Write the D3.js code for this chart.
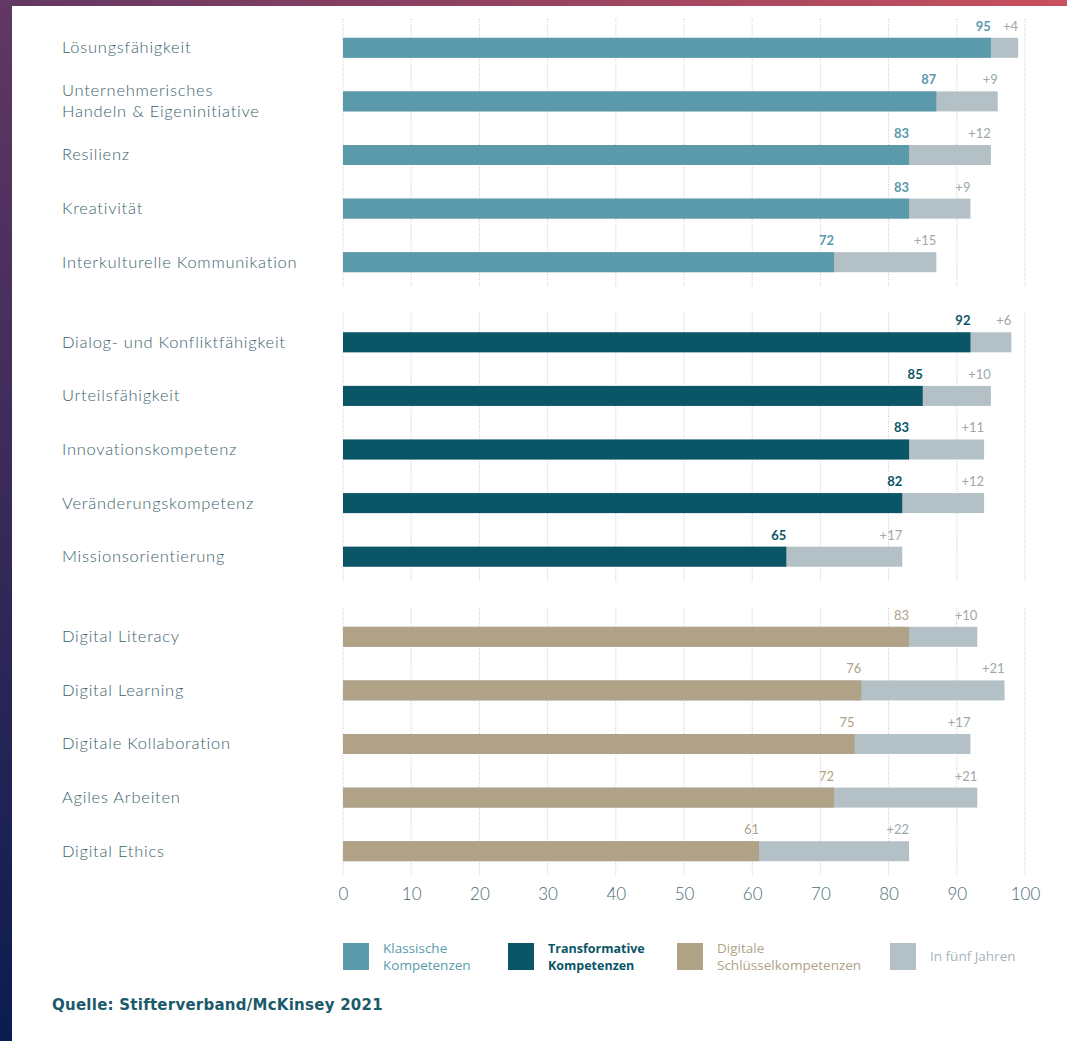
<!DOCTYPE html>
<html>
<head>
<meta charset="utf-8">
<script src="https://d3js.org/d3.v7.min.js"></script>
<style>
  body { margin: 0; background: #fff; }
  svg { display: block; }
</style>
</head>
<body>
<div id="chart"></div>
<script>
// data
const groups = ["Klassische", "Transformative", "Digitale"]
const labels = [
  ["Lösungsfähigkeit", "Unternehmerisches\nHandeln & Eigeninitiative", "Resilienz", "Kreativität", "Interkulturelle Kommunikation"],
  ["Dialog- und Konfliktfähigkeit", "Urteilsfähigkeit", "Innovationskompetenz", "Veränderungskompetenz", "Missionsorientierung"],
  ["Digital Literacy", "Digital Learning", "Digitale Kollaboration", "Agiles Arbeiten", "Digital Ethics"]
]
const today = [
  [95, 87, 83, 83, 72],
  [92, 85, 83, 82, 65],
  [83, 76, 75, 72, 61]
]
const plus = [
  [4, 9, 12, 9, 15],
  [6, 10, 11, 12, 17],
  [10, 21, 17, 21, 22]
]
const ticks = [0, 10, 20, 30, 40, 50, 60, 70, 80, 90, 100]
const legendLabels = [
  ["Klassische", "Kompetenzen"],
  ["Transformative", "Kompetenzen"],
  ["Digitale", "Schlüsselkompetenzen"],
  ["In fünf Jahren"]
]
const source = "Quelle: Stifterverband/McKinsey 2021"

const width = 1067
const height = 1041
const colors = ["#5b9aab", "#0a5566", "#b0a287"]
const futureColor = "#b3c0c6"
const labelColor = "#3c636c"

const svg = d3.select("#chart").append("svg")
  .attr("width", width).attr("height", height)

// frame gradients
const defs = svg.append("defs")
const gl = defs.append("linearGradient").attr("id", "gl").attr("x1", 0).attr("y1", 0).attr("x2", 0).attr("y2", 1)
gl.append("stop").attr("offset", "0%").attr("stop-color", "#623763")
gl.append("stop").attr("offset", "100%").attr("stop-color", "#0b1c50")
const gt = defs.append("linearGradient").attr("id", "gt").attr("x1", 0).attr("y1", 0).attr("x2", 1).attr("y2", 0)
gt.append("stop").attr("offset", "0%").attr("stop-color", "#623763")
gt.append("stop").attr("offset", "100%").attr("stop-color", "#c9505e")
svg.append("rect").attr("x", 0).attr("y", 0).attr("width", width).attr("height", 6).attr("fill", "url(#gt)")
svg.append("rect").attr("x", 0).attr("y", 0).attr("width", 12).attr("height", height).attr("fill", "url(#gl)")

const x = d3.scaleLinear().domain([0, 100]).range([343, 1025])
const yGroup = d3.scaleBand().domain(d3.range(groups.length)).range([19, 876]).paddingInner(0.09)
const yRow = d3.scaleBand().domain(d3.range(5)).range([2, yGroup.bandwidth() + 2])
const barH = 20

groups.forEach((g, gi) => {
  const top = yGroup(gi)
  const grp = svg.append("g").attr("transform", "translate(0," + top + ")")

  // dotted gridlines
  grp.selectAll("line.grid")
    .data(ticks)
    .enter().append("line")
    .attr("x1", d => x(d)).attr("x2", d => x(d))
    .attr("y1", 0).attr("y2", yGroup.bandwidth())
    .attr("stroke", "#c8c8c8")
    .attr("stroke-width", 1)
    .attr("stroke-dasharray", "1,1.5")

  const rows = labels[gi].map((l, i) => ({ label: l, v: today[gi][i], p: plus[gi][i], i: i }))
  const cy = d => yRow(d.i) + yRow.bandwidth() / 2

  grp.selectAll("rect.future").data(rows).enter().append("rect")
    .attr("x", x(0)).attr("y", d => cy(d) - barH / 2)
    .attr("width", d => x(d.v + d.p) - x(0)).attr("height", barH)
    .attr("fill", futureColor)

  grp.selectAll("rect.today").data(rows).enter().append("rect")
    .attr("x", x(0)).attr("y", d => cy(d) - barH / 2)
    .attr("width", d => x(d.v) - x(0)).attr("height", barH)
    .attr("fill", colors[gi])

  grp.selectAll("text.val").data(rows).enter().append("text")
    .attr("x", d => x(d.v)).attr("y", d => cy(d) - barH / 2 - 7)
    .attr("text-anchor", "end")
    .attr("font-family", "Lato, 'Open Sans', sans-serif")
    .attr("font-size", 13)
    .attr("font-weight", gi < 2 ? "bold" : "normal")
    .attr("fill", colors[gi])
    .text(d => d.v)

  grp.selectAll("text.plus").data(rows).enter().append("text")
    .attr("x", d => x(d.v + d.p)).attr("y", d => cy(d) - barH / 2 - 7)
    .attr("text-anchor", "end")
    .attr("font-family", "Lato, 'Open Sans', sans-serif")
    .attr("font-size", 13)
    .attr("fill", "#9ea7ab")
    .text(d => "+" + d.p)

  const lab = grp.selectAll("text.lab").data(rows).enter().append("text")
    .attr("x", 62)
    .attr("font-family", "Lato, 'Open Sans', sans-serif")
    .attr("font-size", 16.5)
    .attr("font-weight", 300)
    .attr("letter-spacing", 0.75)
    .attr("fill", labelColor)
  lab.each(function (d) {
    const lines = d.label.split("\n")
    const t = d3.select(this)
    lines.forEach((ln, k) => {
      t.append("tspan")
        .attr("x", 62)
        .attr("y", cy(d) + 5.5 + (k - (lines.length - 1) / 2) * 21)
        .text(ln)
    })
  })
})

// x axis labels
const xAxis = d3.axisBottom(x).tickValues(ticks).tickSize(0).tickPadding(0)
const ax = svg.append("g").attr("transform", "translate(0,888)").call(xAxis)
ax.select(".domain").remove()
ax.selectAll("text")
  .attr("font-family", "Lato, 'Open Sans', sans-serif")
  .attr("font-size", 17)
  .attr("font-weight", 300)
  .attr("fill", "#4a6b73")

// legend
const legendColors = colors.concat([futureColor])
const legendX = [343, 508, 677, 890]
const lg = svg.append("g")
legendLabels.forEach((ls, i) => {
  lg.append("rect").attr("x", legendX[i]).attr("y", 943).attr("width", 26).attr("height", 27)
    .attr("fill", legendColors[i])
  const t = lg.append("text")
    .attr("font-family", "'Open Sans', Lato, sans-serif")
    .attr("font-size", i === 1 ? 12.5 : 13.5)
    .attr("font-weight", i === 1 ? "bold" : "normal")
    .attr("fill", i === 3 ? "#a8b4ba" : legendColors[i])
  ls.forEach((ln, k) => {
    t.append("tspan").attr("x", legendX[i] + 40)
      .attr("y", 961 + (k - (ls.length - 1) / 2) * 17)
      .text(ln)
  })
})

// source
svg.append("text")
  .attr("x", 52).attr("y", 1010)
  .attr("font-family", "'DejaVu Sans', sans-serif")
  .attr("font-size", 15)
  .attr("font-weight", "bold")
  .attr("letter-spacing", 0.25)
  .attr("fill", "#1b5a6a")
  .text(source)
</script>
</body>
</html>
